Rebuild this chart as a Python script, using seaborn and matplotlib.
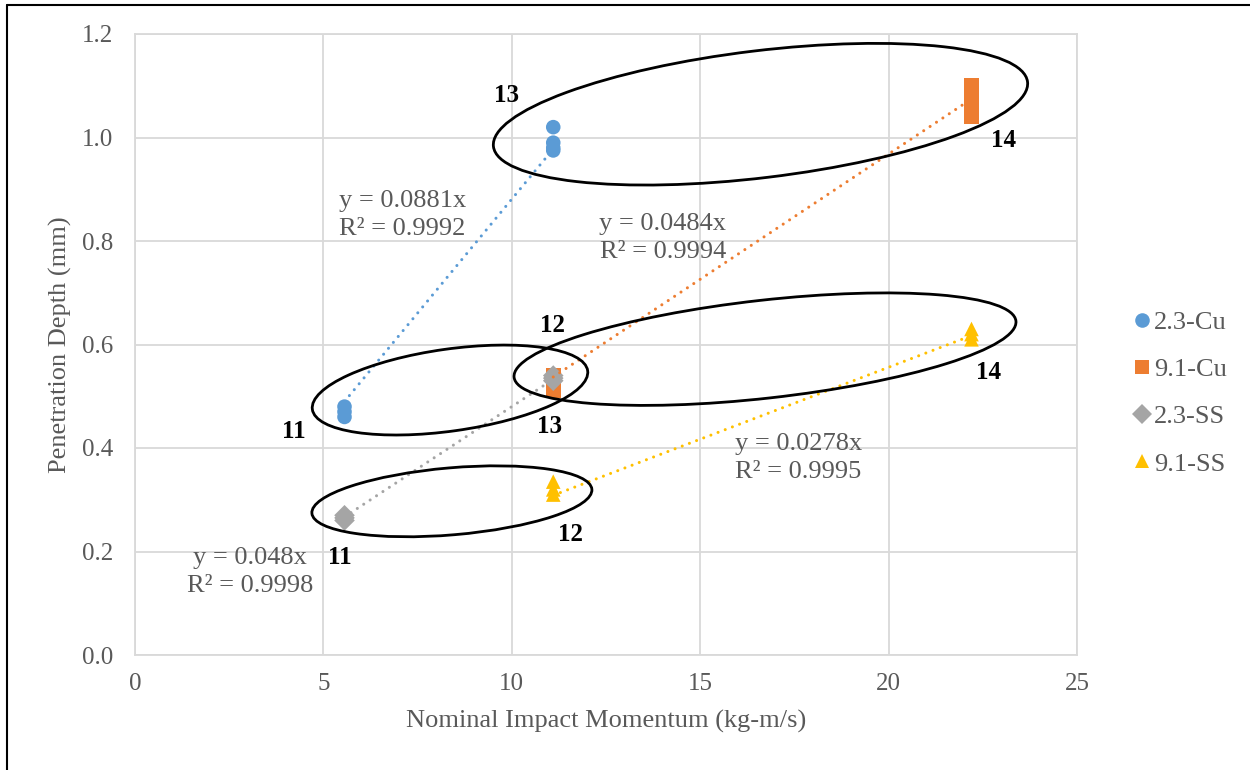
import matplotlib
matplotlib.use("Agg")
import numpy as np
import pandas as pd
import matplotlib.pyplot as plt
import seaborn as sns
from matplotlib.patches import Ellipse
from matplotlib.lines import Line2D
from matplotlib.transforms import ScaledTranslation

# series
series_names = ["2.3-Cu", "9.1-Cu", "2.3-SS", "9.1-SS"]
series_colors = ["#5B9BD5", "#ED7D31", "#A5A5A5", "#FFC000"]
series_markers = ["o", "s", "D", "^"]

cu23_x = [5.56, 5.56, 5.56, 11.1, 11.1, 11.1, 11.1]
cu23_y = [0.46, 0.47, 0.48, 1.02, 0.99, 0.98, 0.975]
cu91_x = [11.1, 11.1, 11.1, 11.1, 22.2, 22.2, 22.2, 22.2]
cu91_y = [0.51, 0.52, 0.53, 0.54, 1.04, 1.06, 1.08, 1.10]
ss23_x = [5.56, 5.56, 5.56, 11.1, 11.1, 11.1]
ss23_y = [0.26, 0.265, 0.27, 0.53, 0.535, 0.54]
ss91_x = [11.1, 11.1, 11.1, 22.2, 22.2, 22.2]
ss91_y = [0.31, 0.32, 0.335, 0.61, 0.62, 0.63]

# linear trendlines through origin, as printed on the chart
trend_slopes = [0.0881, 0.0484, 0.048, 0.0278]
trend_r2 = [0.9992, 0.9994, 0.9998, 0.9995]
trend_label_pos = [(7.09, 0.851), (14.01, 0.805), (3.05, 0.161), (17.60, 0.381)]

# hand-drawn shot group annotations
shot_labels = ["13", "14", "12", "14", "11", "13", "11", "12"]
shot_label_pos = [(9.85, 1.082), (23.04, 0.995), (11.09, 0.636), (22.64, 0.545),
                  (4.22, 0.431), (10.99, 0.441), (5.44, 0.189), (11.57, 0.232)]
ellipse_centres = [(16.6, 1.045), (8.36, 0.512), (16.72, 0.591), (8.41, 0.297)]
ellipse_shapes = [(538, 127, 6.9), (278, 82, 8.0), (505, 98, 6.4), (281, 67, 4.9)]  # px, px, deg

x_ticks = [0, 5, 10, 15, 20, 25]
y_ticks = [0.0, 0.2, 0.4, 0.6, 0.8, 1.0, 1.2]

TEXT_GREY = "#595959"
GRID_GREY = "#D9D9D9"

sns.set_theme(style="whitegrid")
plt.rcParams["font.family"] = ["Liberation Serif", "DejaVu Serif"]

xs = [cu23_x, cu91_x, ss23_x, ss91_x]
ys = [cu23_y, cu91_y, ss23_y, ss91_y]
df = pd.concat(
    [pd.DataFrame({"momentum": x, "depth": y, "series": name})
     for x, y, name in zip(xs, ys, series_names)],
    ignore_index=True,
)

fig = plt.figure(figsize=(12.5, 7.7), dpi=100)
ax = fig.add_axes([135 / 1250, 115 / 770, 942 / 1250, 621 / 770])

sns.scatterplot(
    data=df, x="momentum", y="depth",
    hue="series", style="series",
    hue_order=series_names, style_order=series_names,
    palette=dict(zip(series_names, series_colors)),
    markers=dict(zip(series_names, series_markers)),
    s=110, linewidth=0, ax=ax, zorder=2,
)

# dotted trendlines over the data range
for x, slope, color in zip(xs, trend_slopes, series_colors):
    tx = np.array([min(x), max(x)])
    ax.plot(tx, slope * tx, color=color, lw=2.2, linestyle=(0, (0.01, 2.5)),
            dash_capstyle="round", zorder=3)

for slope, r2, (px, py) in zip(trend_slopes, trend_r2, trend_label_pos):
    ax.text(px, py, f"y = {slope}x\nR² = {r2}", ha="center", va="center",
            multialignment="center", fontsize=19, color=TEXT_GREY, linespacing=1.35)

for label, (px, py) in zip(shot_labels, shot_label_pos):
    ax.text(px, py, label, ha="center", va="center", fontsize=18,
            fontweight="bold", color="black")

for (cx, cy), (w, h, ang) in zip(ellipse_centres, ellipse_shapes):
    trans = fig.dpi_scale_trans + ScaledTranslation(cx, cy, ax.transData)
    ax.add_patch(Ellipse((0, 0), w / fig.dpi, h / fig.dpi, angle=ang,
                         transform=trans, fill=False, ec="black", lw=2, zorder=4,
                         clip_on=False))

ax.set_xlim(0, 25)
ax.set_ylim(0, 1.2)
ax.set_xticks(x_ticks)
ax.set_yticks(y_ticks)
ax.set_xticklabels([str(t) for t in x_ticks])
ax.set_yticklabels([f"{t:.1f}" for t in y_ticks])
ax.tick_params(axis="both", length=0, labelsize=18, labelcolor=TEXT_GREY)
ax.tick_params(axis="y", pad=16)
ax.tick_params(axis="x", pad=13)
ax.grid(True, color=GRID_GREY, lw=1.3)
for spine in ax.spines.values():
    spine.set_color(GRID_GREY)
    spine.set_linewidth(1.3)

ax.set_xlabel("Nominal Impact Momentum (kg-m/s)", fontsize=19, color=TEXT_GREY)
ax.set_ylabel("Penetration Depth (mm)", fontsize=19, color=TEXT_GREY)
ax.xaxis.set_label_coords(0.5, -(710 - 655) / 621)
ax.yaxis.set_label_coords((72 - 135) / 942, 0.5)

sns.move_legend(
    ax, "center left", bbox_to_anchor=(1134 / 1250, (770 - 393) / 770),
    bbox_transform=fig.transFigure, frameon=False, title=None,
    fontsize=19, labelcolor=TEXT_GREY, handlelength=0.6, handletextpad=0.15,
    labelspacing=0.9, borderpad=0, borderaxespad=0, markerscale=1.0,
)

# screenshot frame on the left and top edges
fig.add_artist(Line2D([7 / 1250, 7 / 1250], [0, 1 - 5 / 770], transform=fig.transFigure,
                      color="black", lw=1.5))
fig.add_artist(Line2D([7 / 1250, 1], [1 - 5 / 770, 1 - 5 / 770], transform=fig.transFigure,
                      color="black", lw=1.5))

fig.savefig("out.png", dpi=100)
